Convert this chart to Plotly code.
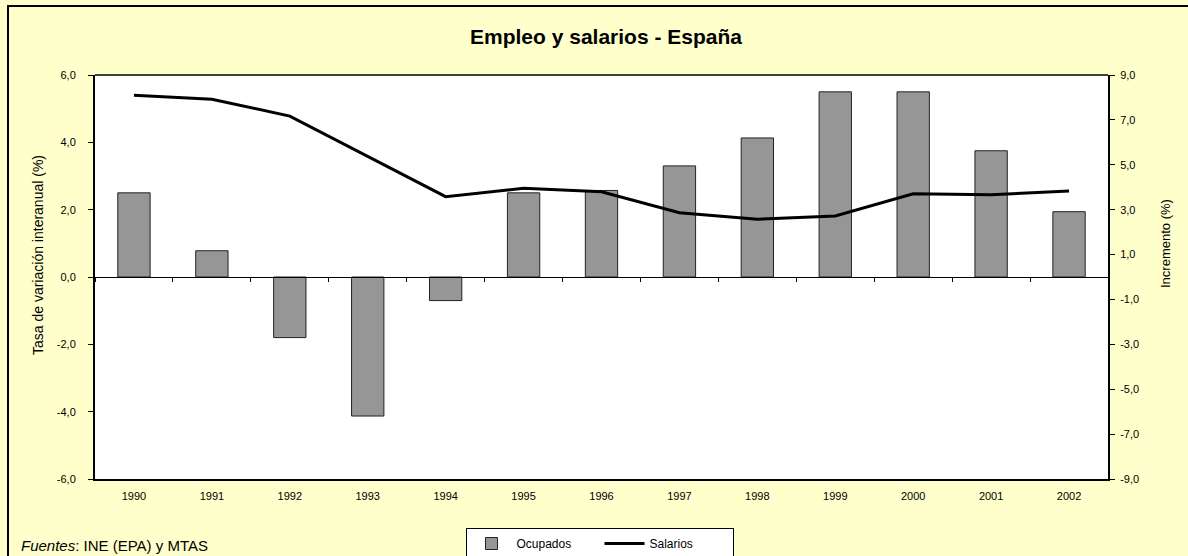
import plotly.graph_objects as go

# ---- data ----
years = ["1990", "1991", "1992", "1993", "1994", "1995", "1996",
         "1997", "1998", "1999", "2000", "2001", "2002"]
ocupados = [2.5, 0.78, -1.8, -4.13, -0.7, 2.5, 2.57, 3.3, 4.13, 5.5, 5.5, 3.75, 1.94]
salarios = [8.1, 7.92, 7.17, 5.36, 3.58, 3.95, 3.8, 2.86, 2.57, 2.72, 3.71, 3.67, 3.83]
left_ticks = [-6, -4, -2, 0, 2, 4, 6]
right_ticks = [-9, -7, -5, -3, -1, 1, 3, 5, 7, 9]
left_labels = ["-6,0", "-4,0", "-2,0", "0,0", "2,0", "4,0", "6,0"]
right_labels = ["-9,0", "-7,0", "-5,0", "-3,0", "-1,0", "1,0", "3,0", "5,0", "7,0", "9,0"]

title_text = "Empleo y salarios - España"
left_title = "Tasa de variación interanual (%)"
right_title = "Incremento (%)"
source_text = "<i>Fuentes</i>: INE (EPA) y MTAS"

# ---- geometry (pixels) ----
W, H = 1188, 556
L, R, T, B = 95, 1108, 75, 479
PW, PH = R - L, B - T


def px_x(x):
    return (x - L) / PW


def px_y(y):
    return (B - y) / PH


FONT = "Liberation Sans, Arial, sans-serif"

fig = go.Figure()
fig.add_trace(go.Bar(
    x=years, y=ocupados, name="Ocupados",
    marker=dict(color="#969696", line=dict(color="#222222", width=1)),
    xaxis="x", yaxis="y",
))
fig.add_trace(go.Scatter(
    x=years, y=salarios, name="Salarios", mode="lines",
    line=dict(color="black", width=3),
    xaxis="x2", yaxis="y2",
))

fig.update_layout(
    width=W, height=H,
    margin=dict(l=L, r=W - R, t=T, b=H - B, autoexpand=False, pad=0),
    paper_bgcolor="#FFFFCC", plot_bgcolor="white",
    font=dict(family=FONT, color="black", size=11),
    bargap=0.585,
    showlegend=True,
    legend=dict(
        orientation="h", x=px_x(599.5), xanchor="center",
        y=px_y(528), yanchor="top",
        bgcolor="white", bordercolor="black", borderwidth=1,
        font=dict(size=12, family=FONT),
        entrywidth=78, entrywidthmode="pixels",
        itemwidth=40,
    ),
    xaxis=dict(
        type="category", categoryorder="array", categoryarray=years,
        range=[-0.5, len(years) - 0.5],
        showline=True, linecolor="black", linewidth=2,
        ticks="", showgrid=False, zeroline=False,
        tickfont=dict(size=11), ticklabelstandoff=6,
    ),
    xaxis2=dict(
        type="category", categoryorder="array", categoryarray=years,
        range=[-0.5, len(years) - 0.5],
        overlaying="x", anchor="free", position=0.5, side="bottom",
        showline=True, linecolor="black", linewidth=1,
        ticks="outside", ticklen=4, tickcolor="black", tickson="boundaries",
        showticklabels=False, showgrid=False, zeroline=False,
    ),
    yaxis=dict(
        range=[-6, 6], tickvals=left_ticks, ticktext=left_labels,
        ticks="outside", ticklen=5, tickcolor="black", tickwidth=1,
        showline=True, linecolor="black", linewidth=2,
        showgrid=False, zeroline=False,
        tickfont=dict(size=11), ticklabelstandoff=10,
    ),
    yaxis2=dict(
        range=[-9, 9], tickvals=right_ticks, ticktext=right_labels,
        overlaying="y", side="right", anchor="x",
        ticks="outside", ticklen=5, tickcolor="black", tickwidth=1,
        showline=True, linecolor="black", linewidth=2,
        showgrid=False, zeroline=False,
        tickfont=dict(size=11), ticklabelstandoff=3,
    ),
    annotations=[
        dict(text="<b>" + title_text + "</b>", xref="paper", yref="paper",
             x=px_x(606), y=px_y(37), xanchor="center", yanchor="middle",
             showarrow=False, font=dict(size=21, family=FONT)),
        dict(text=left_title, xref="paper", yref="paper", textangle=-90,
             x=px_x(38), y=px_y(255), xanchor="center", yanchor="middle",
             showarrow=False, font=dict(size=14, family=FONT)),
        dict(text=right_title, xref="paper", yref="paper", textangle=-90,
             x=px_x(1165), y=px_y(244), xanchor="center", yanchor="middle",
             showarrow=False, font=dict(size=13, family=FONT)),
        dict(text=source_text, xref="paper", yref="paper",
             x=px_x(19), y=px_y(545), xanchor="left", yanchor="middle",
             showarrow=False, font=dict(size=15, family=FONT)),
    ],
    shapes=[
        dict(type="rect", xref="paper", yref="paper",
             x0=px_x(8), x1=px_x(1205), y0=px_y(575), y1=px_y(6),
             line=dict(color="black", width=2), fillcolor="rgba(0,0,0,0)",
             layer="above"),
        dict(type="line", xref="paper", yref="paper",
             x0=0, x1=1, y0=1, y1=1,
             line=dict(color="black", width=1.5), layer="above"),
    ],
)

fig.write_html(
    "out.html",
    config={"displayModeBar": False},
    post_script="document.body.style.margin='0';document.body.style.overflow='hidden';",
)
